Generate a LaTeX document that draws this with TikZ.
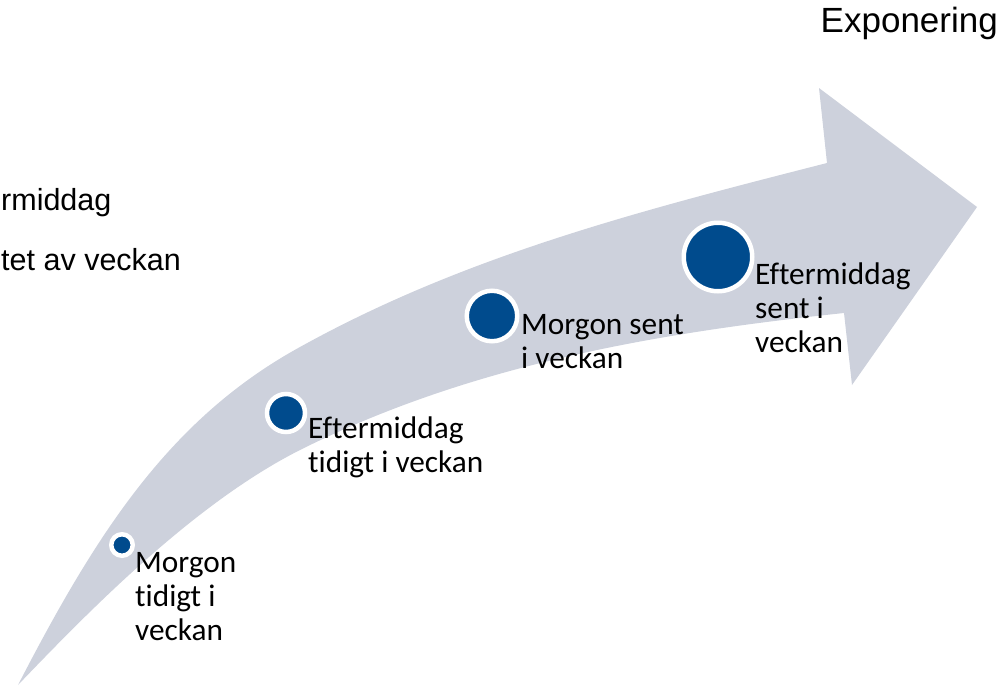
\documentclass[tikz,border=0pt]{standalone}
\usepackage{fontspec}
\setmainfont{Carlito}[Ligatures=NoCommon]
\newfontfamily\arialfont{Liberation Sans}
\usetikzlibrary{calc}
\definecolor{arrowgray}{RGB}{205,209,220}
\definecolor{dotblue}{RGB}{0,75,141}

\begin{document}
\begin{tikzpicture}[x=1pt,y=-1pt,
  dot/.style={circle,fill=dotblue,draw=white,line width=4.5pt,inner sep=0pt},
  lbl/.style={anchor=base west,align=left,inner sep=0pt,font=\fontsize{31.3}{34}\selectfont},
  side/.style={anchor=base west,inner sep=0pt,font=\arialfont\fontsize{30.5}{34}\selectfont}]

\useasboundingbox (0,0) rectangle (1005,686);

% Drawing the curved arrow
\fill[arrowgray] (18,685) .. controls (96,534) and (169,419) .. (300,347)
  .. controls (466,255) and (643,210) .. (827,163)
  -- (819,88) -- (977,207) -- (852,385) -- (844,313)
  .. controls (655,333) and (470,365) .. (300,450)
  .. controls (193,504) and (87,613) .. (18,685) -- cycle;

% Drawing dots
\node[dot,minimum size=21.5pt] (c1) at (122,545) {};
\node[dot,minimum size=38pt] (c2) at (286,413) {};
\node[dot,minimum size=50.5pt] (c3) at (492,316) {};
\node[dot,minimum size=68.5pt] (c4) at (718,257) {};

% Labels (anchored at the last line)
\node[lbl] (t1) at (135,640) {Morgon\\tidigt i\\veckan};
\node[lbl] (t2) at (308,472) {Eftermiddag\\tidigt i veckan};
\node[lbl] (t3) at (521,368) {Morgon sent\\i veckan};
\node[lbl] (t4) at (755,352) {Eftermiddag\\sent i\\veckan};

% Texts on the side
\node[anchor=base east,inner sep=0pt,font=\arialfont\fontsize{35}{40}\selectfont] (expo) at (998,32) {Exponering};
\node[side] (s1) at (1,210) {rmiddag};
\node[side] (s2) at (1,270) {tet av veckan};

\end{tikzpicture}
\end{document}
